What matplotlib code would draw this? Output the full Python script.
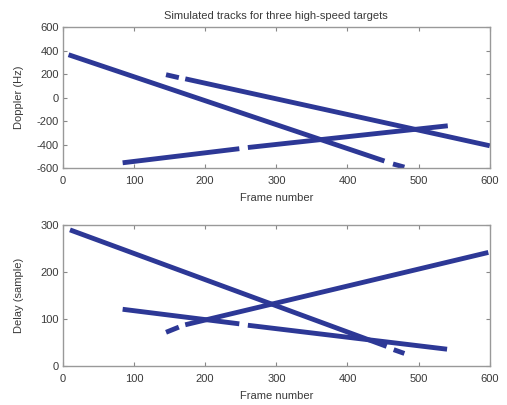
import matplotlib
matplotlib.use("Agg")
import matplotlib.pyplot as plt

plt.rcParams['font.family'] = ['Liberation Sans', 'DejaVu Sans']
plt.rcParams['axes.unicode_minus'] = False

# each track is a list of segments (frame_start, frame_end, value_start, value_end)
doppler_tracks = [
    [(8, 452, 365, -540), (464, 480, -565, -592)],
    [(145, 163, 195, 170), (172, 600, 160, -410)],
    [(84, 248, -555, -435), (260, 541, -425, -240)],
]
delay_tracks = [
    [(10, 455, 290, 42), (465, 480, 35, 27)],
    [(145, 163, 72, 83), (172, 598, 88, 242)],
    [(84, 248, 121, 90), (260, 540, 87, 36)],
]

frame_ticks = [0, 100, 200, 300, 400, 500, 600]
doppler_ticks = [-600, -400, -200, 0, 200, 400, 600]
delay_ticks = [0, 100, 200, 300]

line_color = '#2d3896'
text_color = '#3a3a3a'

fig = plt.figure(figsize=(5.07, 4.05), dpi=100)
ax1 = fig.add_axes([0.124, 0.585, 0.842, 0.348])
ax2 = fig.add_axes([0.124, 0.096, 0.842, 0.348])

for ax, tracks in ((ax1, doppler_tracks), (ax2, delay_tracks)):
    for track in tracks:
        for x0, x1, y0, y1 in track:
            ax.plot([x0, x1], [y0, y1], color=line_color, lw=3.5,
                    solid_capstyle='butt')

for ax in (ax1, ax2):
    ax.set_xlim(0, 600)
    ax.set_xticks(frame_ticks)
    ax.set_xlabel('Frame number', fontsize=8, color=text_color, labelpad=5)
    ax.tick_params(direction='in', top=True, right=True, length=3,
                   labelsize=8, colors=text_color, color='#888888')
    ax.tick_params(axis='x', pad=6)
    ax.tick_params(axis='y', pad=3)
    for s in ax.spines.values():
        s.set_color('#999999')
        s.set_linewidth(1.0)

ax1.set_ylim(-600, 600)
ax1.set_yticks(doppler_ticks)
ax1.set_ylabel('Doppler (Hz)', fontsize=8, color=text_color, labelpad=9)
ax1.set_title('Simulated tracks for three high-speed targets', fontsize=8,
              color=text_color, pad=6)

ax2.set_ylim(0, 300)
ax2.set_yticks(delay_ticks)
ax2.set_ylabel('Delay (sample)', fontsize=8, color=text_color, labelpad=12)

fig.savefig('out.png', dpi=100)
